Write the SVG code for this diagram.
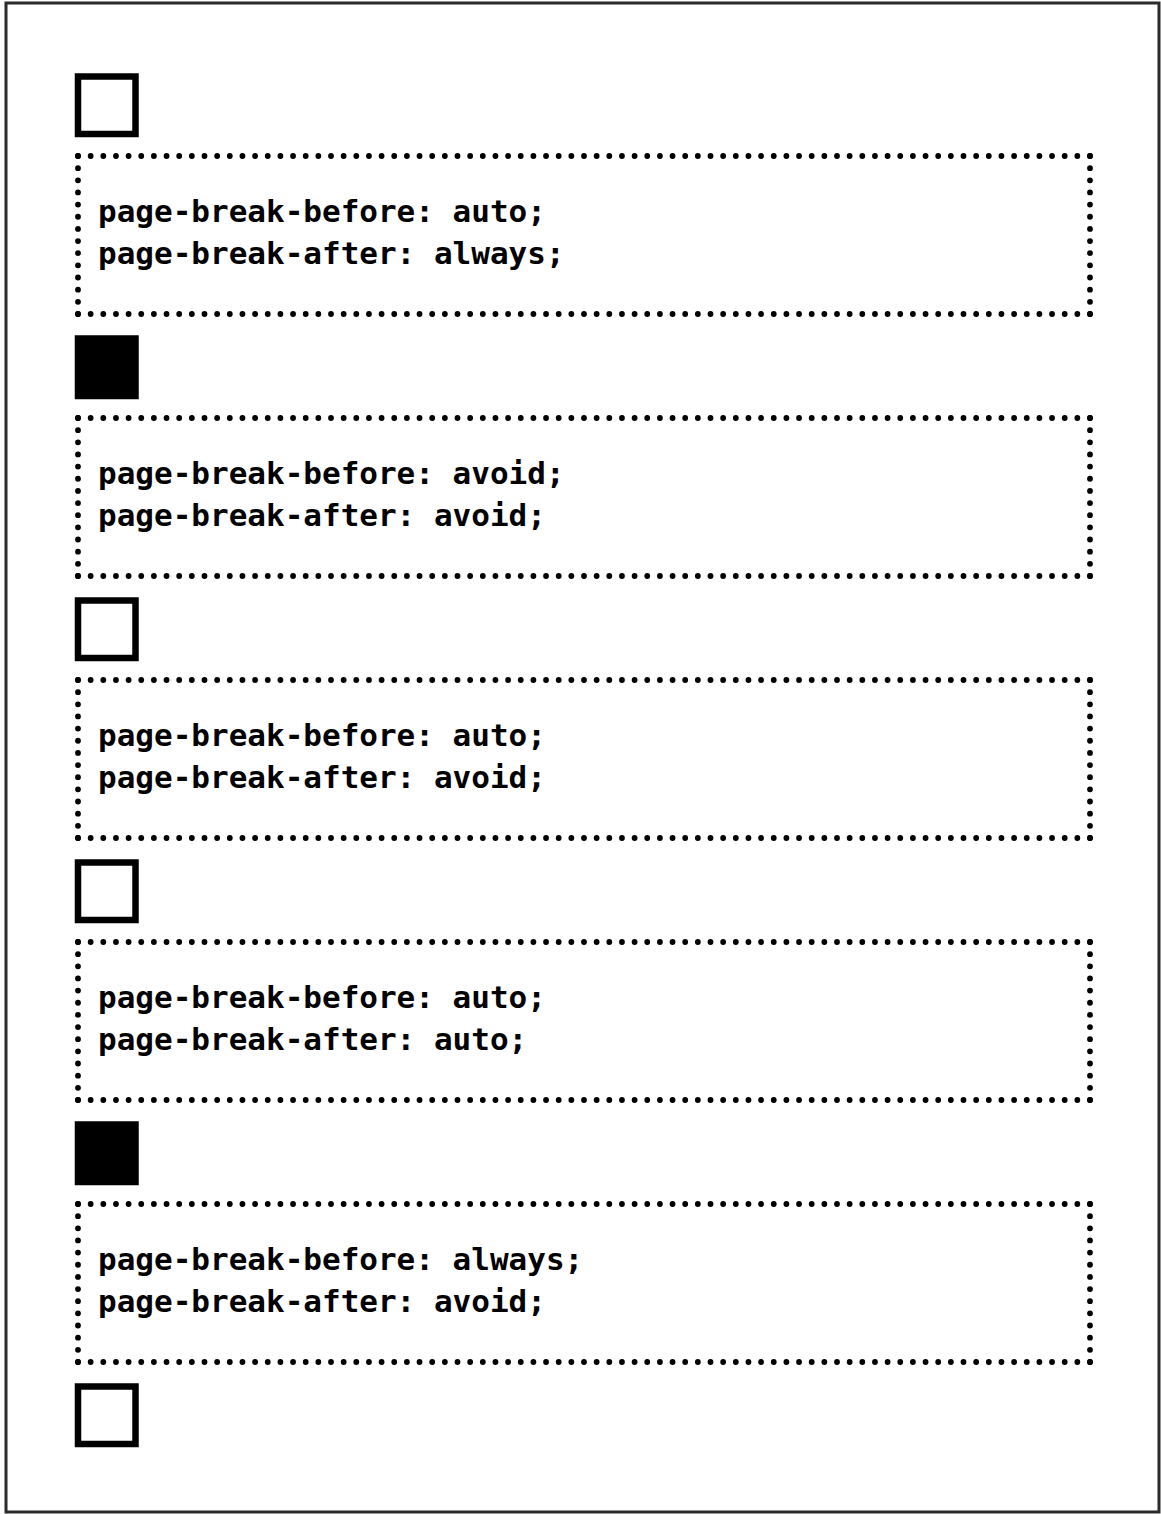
<svg xmlns="http://www.w3.org/2000/svg" width="1161" height="1514" viewBox="0 0 1161 1514">
<style>
.frame{fill:#fff;stroke:#2a2a2a;stroke-width:3}
.sq{fill:#fff;stroke:#000;stroke-width:6.5}
.sqf{fill:#000;stroke:#000;stroke-width:6.5}
.dot{fill:none;stroke:#000;stroke-width:5.8;stroke-linecap:round}
.h{stroke-dasharray:0 12.65}
.v{stroke-dasharray:0 12.15}
.t{font-family:"DejaVu Sans Mono","Liberation Mono",monospace;font-weight:bold;font-size:31px;fill:#000}
</style>
<rect class="frame" x="6" y="3" width="1153" height="1509"/>
<g id="square1"><rect class="sq" x="78" y="76.5" width="57.5" height="57.5"/></g>
<g id="box1">
<path class="dot h" d="M78 156H1090M78 314H1090"/><path class="dot v" d="M78 156V314M1090 156V314"/>
<text class="t" x="98" y="222">page-break-before: auto;</text>
<text class="t" x="98" y="264">page-break-after: always;</text>
</g>
<g id="square2"><rect class="sqf" x="78" y="338.5" width="57.5" height="57.5"/></g>
<g id="box2">
<path class="dot h" d="M78 418H1090M78 576H1090"/><path class="dot v" d="M78 418V576M1090 418V576"/>
<text class="t" x="98" y="484">page-break-before: avoid;</text>
<text class="t" x="98" y="526">page-break-after: avoid;</text>
</g>
<g id="square3"><rect class="sq" x="78" y="600.5" width="57.5" height="57.5"/></g>
<g id="box3">
<path class="dot h" d="M78 680H1090M78 838H1090"/><path class="dot v" d="M78 680V838M1090 680V838"/>
<text class="t" x="98" y="746">page-break-before: auto;</text>
<text class="t" x="98" y="788">page-break-after: avoid;</text>
</g>
<g id="square4"><rect class="sq" x="78" y="862.5" width="57.5" height="57.5"/></g>
<g id="box4">
<path class="dot h" d="M78 942H1090M78 1100H1090"/><path class="dot v" d="M78 942V1100M1090 942V1100"/>
<text class="t" x="98" y="1008">page-break-before: auto;</text>
<text class="t" x="98" y="1050">page-break-after: auto;</text>
</g>
<g id="square5"><rect class="sqf" x="78" y="1124.5" width="57.5" height="57.5"/></g>
<g id="box5">
<path class="dot h" d="M78 1204H1090M78 1362H1090"/><path class="dot v" d="M78 1204V1362M1090 1204V1362"/>
<text class="t" x="98" y="1270">page-break-before: always;</text>
<text class="t" x="98" y="1312">page-break-after: avoid;</text>
</g>
<g id="square6"><rect class="sq" x="78" y="1386.5" width="57.5" height="57.5"/></g>
</svg>
